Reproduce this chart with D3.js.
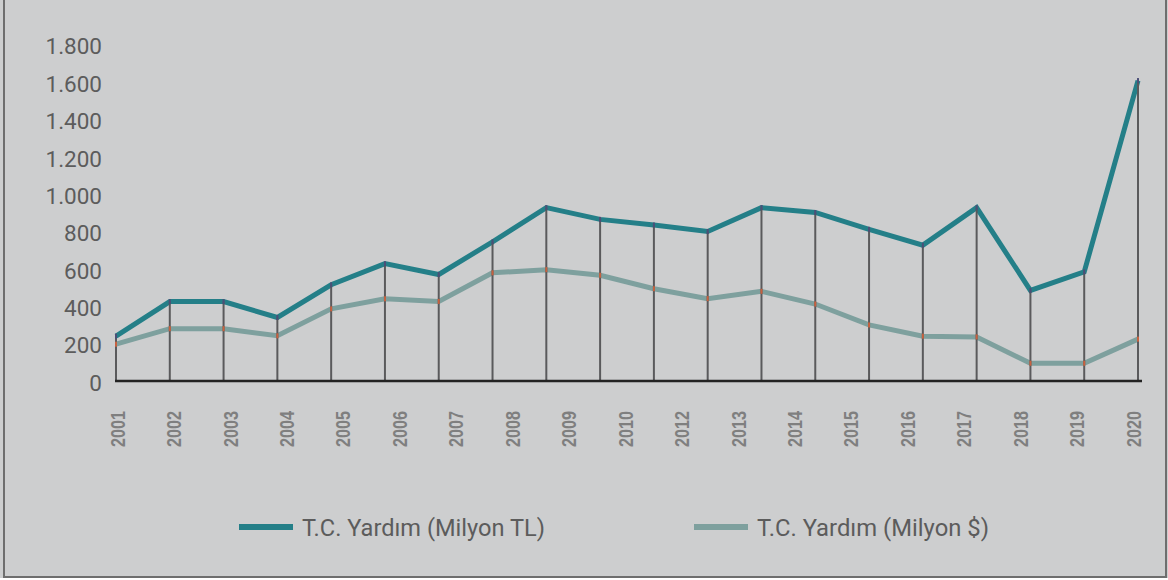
<!DOCTYPE html>
<html>
<head>
<meta charset="utf-8">
<script src="https://cdn.jsdelivr.net/npm/d3@7"></script>
<style>
  body { margin: 0; background: #fff; }
  svg { display: block; font-family: Roboto, "Noto Sans", sans-serif; }
</style>
</head>
<body>
<svg width="1168" height="580"></svg>
<script>
// years of the data points (20), and the axis labels as printed (19, no 2011)
let years = ["2001", "2002", "2003", "2004", "2005", "2006", "2007", "2008", "2009", "2010",
  "2011", "2012", "2013", "2014", "2015", "2016", "2017", "2018", "2019", "2020"];
let yearLabels = ["2001", "2002", "2003", "2004", "2005", "2006", "2007", "2008", "2009", "2010",
  "2012", "2013", "2014", "2015", "2016", "2017", "2018", "2019", "2020"];

let yardimTL = [240, 425, 425, 340, 515, 628, 570, 745, 928, 865,
  835, 800, 928, 902, 812, 727, 928, 485, 584, 1608];
let yardimUSD = [197, 280, 280, 242, 386, 440, 426, 579, 596, 566,
  494, 441, 480, 412, 300, 240, 236, 95, 95, 224];

let yTicks = [0, 200, 400, 600, 800, 1000, 1200, 1400, 1600, 1800];

let seriesNames = ["T.C. Yardım (Milyon TL)", "T.C. Yardım (Milyon $)"];
let seriesColors = ["#247f88", "#7ea09e"];

function drawChart()
{
  let svg = d3.select("svg");

  // panel background + frame
  svg.append("rect")
    .attr("x", 0).attr("y", 0)
    .attr("width", 1168).attr("height", 578)
    .attr("fill", "#cdcecf");
  svg.append("path")
    .attr("d", "M4,-5V577H1166V-5")
    .attr("fill", "none")
    .attr("stroke", "#6e6e6e")
    .attr("stroke-width", 2);

  let x = d3.scalePoint().domain(years).range([116, 1138]);
  let xLabel = d3.scalePoint().domain(yearLabels).range([117, 1133]);
  let y = d3.scaleLinear().domain([0, 1800]).range([381, 44.7]);

  // y tick labels
  let yAxis = svg.append("g")
    .attr("transform", "translate(102,2)")
    .call(d3.axisLeft(y).tickValues(yTicks).tickSize(0).tickPadding(0)
      .tickFormat(function (d) {
        return d3.format(",")(d).replace(/,/g, ".");
      }));
  yAxis.select(".domain").remove();
  yAxis.selectAll("text")
    .attr("fill", "#5c5c5c")
    .style("font-size", "22.5px")
    .style("font-family", "Roboto, sans-serif");

  // x labels, rotated
  let xAxis = svg.append("g")
    .attr("transform", "translate(0,411)")
    .call(d3.axisBottom(xLabel).tickSize(0));
  xAxis.select(".domain").remove();
  xAxis.selectAll("text")
    .attr("transform", "rotate(-90)")
    .attr("x", 0)
    .attr("y", 0)
    .attr("dy", "0.36em")
    .attr("text-anchor", "end")
    .attr("fill", "#7f7f7f")
    .attr("textLength", 36)
    .attr("lengthAdjust", "spacingAndGlyphs")
    .style("font-size", "20px")
    .style("font-weight", "bold")
    .style("font-family", "'Liberation Sans', Arial, sans-serif");

  let line = d3.line()
    .x(function (d, i) { return x(years[i]); })
    .y(function (d) { return y(d); });

  svg.append("path")
    .datum(yardimUSD)
    .attr("d", line)
    .attr("fill", "none")
    .attr("stroke", seriesColors[1])
    .attr("stroke-width", 5);

  svg.append("path")
    .datum(yardimTL)
    .attr("d", line)
    .attr("fill", "none")
    .attr("stroke", seriesColors[0])
    .attr("stroke-width", 5);

  // drop lines from the axis to the TL series
  svg.selectAll(".drop")
    .data(yardimTL)
    .enter().append("line")
    .attr("class", "drop")
    .attr("x1", function (d, i) { return x(years[i]); })
    .attr("x2", function (d, i) { return x(years[i]); })
    .attr("y1", y(0))
    .attr("y2", function (d) { return y(d); })
    .attr("stroke", "#5a5a5c")
    .attr("stroke-width", 2);

  // small point marks where drop lines meet the series
  svg.selectAll(".mTL")
    .data(yardimTL)
    .enter().append("rect")
    .attr("class", "mTL")
    .attr("x", function (d, i) { return x(years[i]) - 1; })
    .attr("y", function (d) { return y(d) - 2.5; })
    .attr("width", 2)
    .attr("height", 5)
    .attr("fill", "#4b4f78");

  svg.selectAll(".mUSD")
    .data(yardimUSD)
    .enter().append("rect")
    .attr("class", "mUSD")
    .attr("x", function (d, i) { return x(years[i]) - 1; })
    .attr("y", function (d) { return y(d) - 2.5; })
    .attr("width", 2)
    .attr("height", 5)
    .attr("fill", "#c8613f");

  // baseline
  svg.append("line")
    .attr("x1", 115).attr("x2", 1142)
    .attr("y1", y(0)).attr("y2", y(0))
    .attr("stroke", "#232323")
    .attr("stroke-width", 2.6);

  // legend
  let legend = svg.selectAll(".legend")
    .data(seriesNames)
    .enter().append("g")
    .attr("class", "legend")
    .attr("transform", function (d, i) {
      return "translate(" + [239, 694][i] + ",527)";
    });

  legend.append("line")
    .attr("x1", 0).attr("x2", 54)
    .attr("stroke", function (d, i) { return seriesColors[i]; })
    .attr("stroke-width", 6);

  legend.append("text")
    .attr("x", 63)
    .attr("dy", "0.36em")
    .attr("fill", "#5c5c5c")
    .attr("textLength", function (d, i) { return [243, 232][i]; })
    .attr("lengthAdjust", "spacingAndGlyphs")
    .style("font-size", "24px")
    .text(function (d) { return d; });
}

drawChart();
</script>
</body>
</html>
